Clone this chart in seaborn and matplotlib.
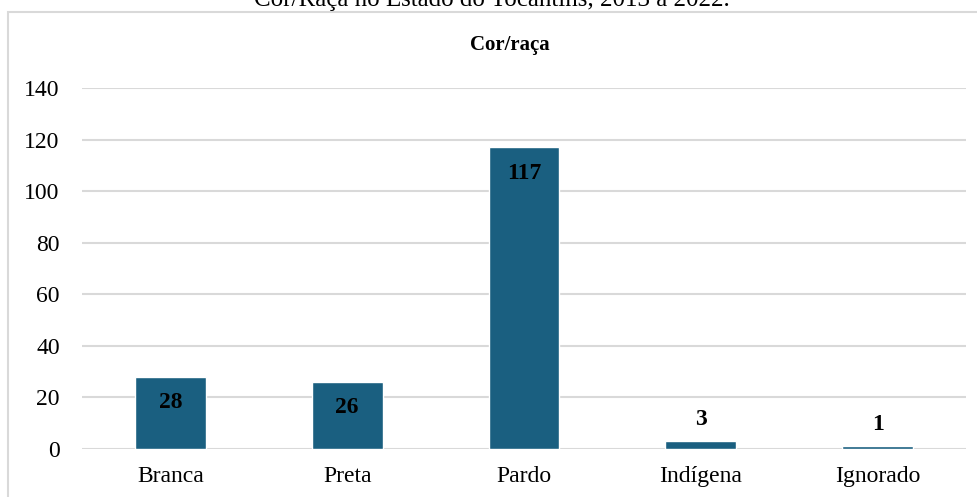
import matplotlib.pyplot as plt
import seaborn as sns
import pandas as pd
from matplotlib.patches import Rectangle

# Data
categorias = ["Branca", "Preta", "Pardo", "Indígena", "Ignorado"]
casos = [28, 26, 117, 3, 1]
yticks = [0, 20, 40, 60, 80, 100, 120, 140]

titulo = "Cor/raça"
legenda_topo = "Cor/Raça no Estado do Tocantins, 2013 a 2022."

sns.set_style("white")
plt.rcParams["font.family"] = ["Liberation Serif", "DejaVu Serif"]
plt.rcParams["text.color"] = "black"
plt.rcParams["xtick.color"] = "black"
plt.rcParams["ytick.color"] = "black"

W, H = 977, 497
fig = plt.figure(figsize=(W / 100, H / 100), dpi=100)

# chart frame (runs off the right/bottom edge like the reference)
fig.patches.append(Rectangle((8 / W, -0.1), 1.2, 1 - 12 / H + 0.1,
                             transform=fig.transFigure, fill=False,
                             edgecolor="#d9d9d9", linewidth=1.5))
# caption above the frame is cut off at the top in the reference too
fig.text(492 / W, 1 - 6 / H, legenda_topo, ha="center", va="baseline",
         fontsize=18, color="black")
fig.text(510 / W, 1 - 45 / H, titulo, ha="center", va="center",
         fontsize=15, fontweight="bold", color="black")

ax = fig.add_axes([82 / W, 48 / H, (966 - 82) / W, (449 - 88) / H])
df = pd.DataFrame({"cat": categorias, "n": casos})
sns.barplot(data=df, x="cat", y="n", color="#1a5f80", saturation=1,
            width=0.4, ax=ax)

ax.set_ylim(0, 140)
ax.set_yticks(yticks)
ax.set_xlim(-0.5, len(categorias) - 0.5)
ax.yaxis.grid(True, color="#d9d9d9", linewidth=1.5)
ax.set_axisbelow(True)
for s in ax.spines.values():
    s.set_visible(False)
ax.set_xlabel("")
ax.set_ylabel("")
ax.tick_params(axis="y", length=0, pad=16, labelsize=17)
ax.tick_params(axis="x", length=0, pad=12, labelsize=17)

for i, v in enumerate(casos):
    if v > 10:
        ax.annotate(str(v), (i, v), xytext=(0, -11), textcoords="offset points",
                    ha="center", va="top", fontsize=17, fontweight="bold")
    else:
        ax.annotate(str(v), (i, v), xytext=(0, 8), textcoords="offset points",
                    ha="center", va="bottom", fontsize=17, fontweight="bold")

fig.savefig("out.png", dpi=100)
